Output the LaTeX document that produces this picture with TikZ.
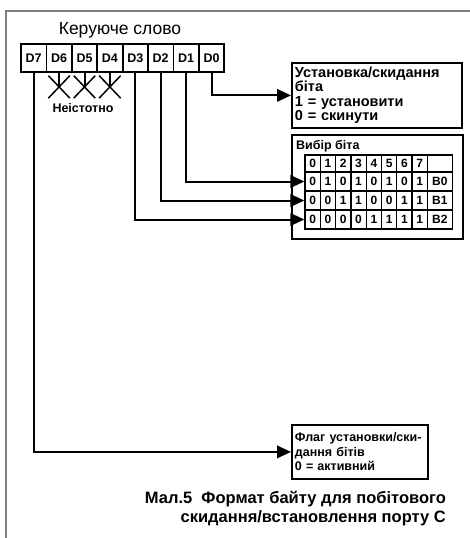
\documentclass[tikz,border=0pt]{standalone}
\usepackage{fontspec}
\setmainfont{Liberation Sans}
\usetikzlibrary{arrows.meta,positioning,calc,shapes.misc}
\definecolor{frm}{RGB}{128,128,128}

\begin{document}
\begin{tikzpicture}[x=1pt,y=-1pt,font=\fontsize{12}{14}\selectfont\bfseries,
  >={Triangle[length=14pt,width=12.5pt]},
  wire/.style={line width=2pt},
  cell/.style={draw,line width=1.8pt,minimum width=25.4pt,minimum height=28pt,inner sep=0pt,font=\fontsize{12.5}{14}\selectfont\bfseries},
  tcell/.style={draw,line width=1.3pt,minimum width=15.3pt,minimum height=19pt,inner sep=0pt},
  infobox/.style={draw,line width=1.8pt,anchor=north west,align=left,inner xsep=3pt,inner ysep=4pt}]
 \useasboundingbox (0,0) rectangle (470,538);
 % frame
 \draw[frm,line width=1.2pt] (470,11) -- (6,11) -- (6,538);
 \node[font=\fontsize{17.5}{19}\selectfont\mdseries] (title) at (120,30) {Керуюче слово};
 % control word
 \foreach \i in {0,...,7}{
   \pgfmathtruncatemacro\b{7-\i}
   \node[cell] (d\b) at (33.7+25.4*\i,58) {D\b};
 }
 \foreach \b in {6,5,4}{
   \node[draw,cross out,line width=1.5pt,minimum width=20pt,minimum height=21pt,inner sep=0pt] (x\b) at ($(d\b.south)+(0,14)$) {};
   \draw[wire] (d\b.south) -- (x\b.center);
 }
 \node[font=\fontsize{12.5}{13}\selectfont\bfseries] (nei) at (83,108) {Неістотно};
 % set/reset box
 \node[infobox,font=\fontsize{14.5}{14.5}\selectfont\bfseries,text width=164pt,minimum height=64pt] (set) at (291,62) {Установка/скидання\\біта\\1 = установити\\0 = скинути};
 % bit select box
 \node[draw,line width=1.8pt,minimum width=171pt,minimum height=104pt,anchor=north west] (sel) at (291,134) {};
 \node[anchor=north west,inner sep=0pt,font=\fontsize{12.5}{14}\selectfont\bfseries] (selt) at ($(sel.north west)+(5,6)$) {Вибір біта};
 \foreach \v [count=\c from 0] in {0,...,7}{
   \node[tcell,minimum height=17pt] (c0\c) at (312.65+15.3*\c,163.5) {\v};
 }
 \node[tcell,minimum width=25pt,minimum height=17pt] (c08) at (439.8,163.5) {};
 \foreach \r/\vals/\nm in {1/{0,1,0,1,0,1,0,1}/B0, 2/{0,0,1,1,0,0,1,1}/B1, 3/{0,0,0,0,1,1,1,1}/B2}{
   \foreach \v [count=\c from 0] in \vals{
     \node[tcell] (c\r\c) at (312.65+15.3*\c,162.5+19*\r) {\v};
   }
   \node[tcell,minimum width=25pt] (c\r8) at (439.8,162.5+19*\r) {\nm};
 }
 % flag box
 \node[infobox,font=\fontsize{12.5}{14.5}\selectfont\bfseries,text width=130pt,minimum height=54pt] (flag) at (291,424) {Флаг установки/ски-\\дання бітів\\0 = активний};
 % connections
 \draw[wire,->] (d0.south) |- (set.west);
 \draw[wire,->] (d1.south) |- (c10.west);
 \draw[wire,->] (d2.south) |- (c20.west);
 \draw[wire,->] (d3.south) |- (c30.west);
 \draw[wire,->] (d7.south) |- (flag.west);
 % caption
 \node[font=\fontsize{16.5}{19}\selectfont\bfseries,anchor=base east,inner sep=0pt] (cap1) at (446,503) {Мал.5\ \ Формат байту для побітового};
 \node[font=\fontsize{16.5}{19}\selectfont\bfseries,anchor=base east,inner sep=0pt] (cap2) at (446,522) {скидання/встановлення порту С};
\end{tikzpicture}
\end{document}
